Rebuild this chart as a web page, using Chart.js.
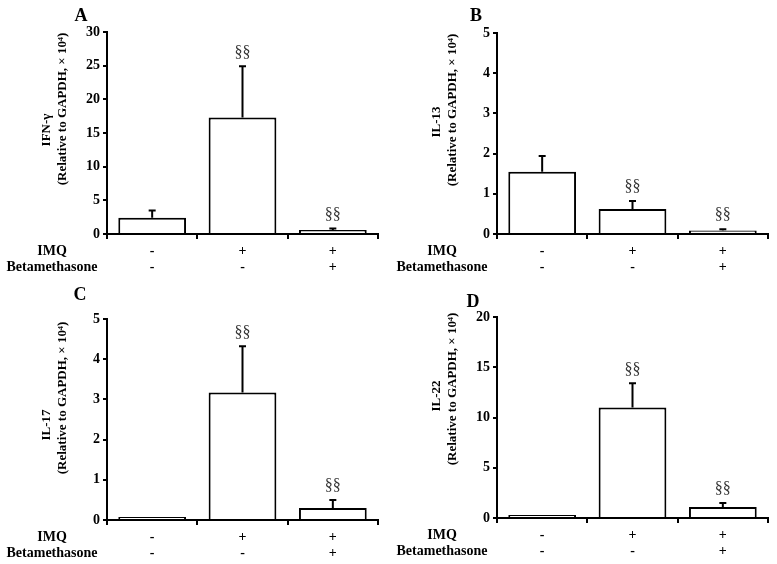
<!DOCTYPE html>
<html>
<head>
<meta charset="utf-8">
<script src="https://cdn.jsdelivr.net/npm/chart.js@4.4.1/dist/chart.umd.min.js"></script>
<style>
  body { margin: 0; background: #fff; }
  #wrap { position: relative; width: 777px; height: 564px; }
  canvas { position: absolute; }
</style>
</head>
<body>
<div id="wrap">
  <canvas id="panelA" style="left:0;top:0" width="390" height="280"></canvas>
  <canvas id="panelB" style="left:390px;top:0" width="387" height="280"></canvas>
  <canvas id="panelC" style="left:0;top:280px" width="390" height="284"></canvas>
  <canvas id="panelD" style="left:390px;top:280px" width="387" height="284"></canvas>
</div>
<script>
// groups
const groups = ['Control', 'IMQ', 'IMQ + Betamethasone'];
const imqSigns = ['-', '+', '+'];
const betaSigns = ['-', '-', '+'];
const sigMarks = ['', '§§', '§§'];

// IFN-γ
const ifnMeans = [2.4, 17.3, 0.6];
const ifnErrors = [1.1, 7.6, 0.2];
// IL-13
const il13Means = [1.55, 0.62, 0.09];
const il13Errors = [0.39, 0.2, 0.03];
// IL-17
const il17Means = [0.03, 3.17, 0.3];
const il17Errors = [0, 1.15, 0.2];
// IL-22
const il22Means = [0.1, 11.0, 1.1];
const il22Errors = [0, 2.4, 0.4];

const serif = '"Liberation Serif", "Times New Roman", serif';

function makePanel(id, letter, gene, means, errors, yMax, yStep, box, pos) {
  const canvas = document.getElementById(id);
  const W = canvas.width, H = canvas.height;

  const decor = {
    id: 'decor',
    afterDatasetsDraw(chart) {
      const ctx = chart.ctx;
      const y = chart.scales.y;
      const bars = chart.getDatasetMeta(0).data;
      ctx.save();
      ctx.strokeStyle = '#000';
      ctx.lineWidth = 2;
      bars.forEach((bar, i) => {
        const base = y.getPixelForValue(means[i]);
        const top = y.getPixelForValue(means[i] + errors[i]);
        if (errors[i] > 0) {
          ctx.beginPath();
          ctx.moveTo(bar.x, base);
          ctx.lineTo(bar.x, top);
          ctx.moveTo(bar.x - 3.5, top);
          ctx.lineTo(bar.x + 3.5, top);
          ctx.stroke();
        }
        if (sigMarks[i]) {
          ctx.fillStyle = '#333';
          ctx.font = '16px ' + serif;
          ctx.textAlign = 'center';
          ctx.textBaseline = 'middle';
          ctx.fillText(sigMarks[i], bar.x, top - 14);
        }
      });
      ctx.restore();
    },
    afterDraw(chart) {
      const ctx = chart.ctx;
      const x = chart.scales.x;
      const bottom = chart.chartArea.bottom;
      ctx.save();
      ctx.fillStyle = '#000';
      ctx.textAlign = 'center';
      ctx.textBaseline = 'middle';

      ctx.font = 'bold 18px ' + serif;
      ctx.fillText(letter, pos.letter[0], pos.letter[1]);

      ctx.font = 'bold 14px ' + serif;
      ctx.fillText('IMQ', 52, bottom + 17);
      ctx.fillText('Betamethasone', 52, bottom + 33);
      groups.forEach((g, i) => {
        const cx = x.getPixelForValue(i);
        ctx.fillText(imqSigns[i], cx, bottom + 17);
        ctx.fillText(betaSigns[i], cx, bottom + 33);
      });

      ctx.font = 'bold 13px ' + serif;
      ctx.save();
      ctx.translate(47, pos.gene);
      ctx.rotate(-Math.PI / 2);
      ctx.fillText(gene, 0, 0);
      ctx.restore();
      ctx.save();
      ctx.translate(63, pos.rel);
      ctx.rotate(-Math.PI / 2);
      ctx.fillText('(Relative to GAPDH, \u00d7 10\u2074)', 0, 0);
      ctx.restore();
      ctx.restore();
    }
  };

  return new Chart(canvas.getContext('2d'), {
    type: 'bar',
    data: {
      labels: groups,
      datasets: [{
        data: means,
        backgroundColor: '#fff',
        borderColor: '#000',
        borderWidth: 2,
        borderSkipped: 'start',
        minBarLength: 3,
        barPercentage: 0.75,
        categoryPercentage: 1
      }]
    },
    options: {
      responsive: false,
      animation: false,
      layout: { padding: { left: 0, top: box.top, right: W - box.right, bottom: 0 } },
      plugins: { legend: { display: false }, tooltip: { enabled: false } },
      scales: {
        x: {
          offset: true,
          grid: { offset: true, drawOnChartArea: false, tickLength: 5, color: '#000', lineWidth: 2 },
          border: { color: '#000', width: 2 },
          ticks: { display: false },
          afterFit(s) { s.height = H - box.bottom; }
        },
        y: {
          min: 0,
          max: yMax,
          grid: { drawOnChartArea: false, tickLength: 4, color: '#000', lineWidth: 2 },
          border: { color: '#000', width: 2 },
          ticks: { stepSize: yStep, padding: 3, color: '#000', font: { family: serif, size: 14, weight: 'bold' } },
          afterFit(s) { s.width = box.left; }
        }
      }
    },
    plugins: [decor]
  });
}

makePanel('panelA', 'A', 'IFN-\u03b3', ifnMeans, ifnErrors, 30, 5,
  { left: 107, top: 32, right: 378, bottom: 234 }, { letter: [81, 16], gene: 130, rel: 109 });
makePanel('panelB', 'B', 'IL-13', il13Means, il13Errors, 5, 1,
  { left: 107, top: 33, right: 378, bottom: 234 }, { letter: [86, 16], gene: 122, rel: 110 });
makePanel('panelC', 'C', 'IL-17', il17Means, il17Errors, 5, 1,
  { left: 107, top: 39, right: 378, bottom: 240 }, { letter: [80, 15], gene: 145, rel: 118 });
makePanel('panelD', 'D', 'IL-22', il22Means, il22Errors, 20, 5,
  { left: 107, top: 37, right: 378, bottom: 238 }, { letter: [83, 22], gene: 116, rel: 109 });
</script>
</body>
</html>
